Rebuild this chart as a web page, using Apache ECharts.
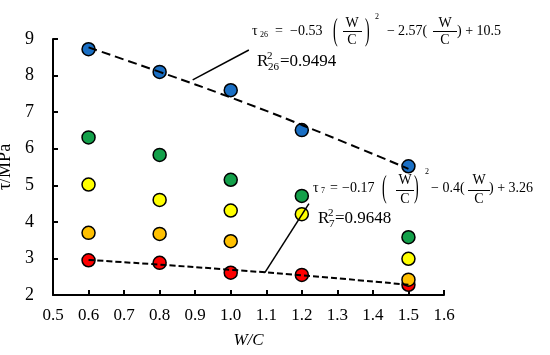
<!DOCTYPE html>
<html><head><meta charset="utf-8">
<script src="https://cdn.jsdelivr.net/npm/echarts@6/dist/echarts.min.js"></script>
<style>html,body{margin:0;padding:0;background:#fff}#c{width:550px;height:355px}</style>
</head><body><div id="c"></div>
<script>
// W/C categories
const wc = [0.6, 0.8, 1.0, 1.2, 1.5];
// shear strength values (MPa)
const blue   = [8.72, 8.10, 7.60, 6.51, 5.52];
const green  = [6.31, 5.83, 5.15, 4.71, 3.58];
const yellow = [5.02, 4.60, 4.31, 4.21, 2.99];
const orangeX = [0.6, 0.8, 1.0, 1.5];
const orange = [3.70, 3.67, 3.47, 2.42];
const red    = [2.95, 2.88, 2.61, 2.55, 2.28];
// fitted trend lines read at the same W/C
const trend26 = [8.77, 8.10, 7.40, 6.65, 5.45];
const trend7  = [2.96, 2.83, 2.69, 2.54, 2.28];
// leader lines (data coords)
const leader26 = [[0.893, 7.88], [1.051, 8.70]];
const leader7  = [[1.096, 2.61], [1.22, 4.50]];
const xTicks = [0.5, 1.6, 0.1];
const yTicks = [2, 9, 1];

const F = '"Liberation Serif","Times New Roman",serif';
const pairs = (xs, ys) => xs.map((x, i) => [x, ys[i]]);
const dot = (name, xs, ys, color, z) => ({
  name, type: 'scatter', data: pairs(xs, ys), symbol: 'circle', symbolSize: 13, z,
  itemStyle: {color, borderColor: '#000', borderWidth: 1.5, opacity: 1}
});
const lineS = (data, type, width, z) => ({
  type: 'line', data, smooth: true, symbol: 'none', z, silent: true,
  lineStyle: {color: '#000', width, type}
});

const chart = echarts.init(document.getElementById('c'));
function txt(x, y, text, size, extra) {
  return Object.assign({type: 'text', x, y, z: 100, style: {text, font: size + 'px ' + F, fill: '#000',
    align: 'left', verticalAlign: 'middle'}}, extra || {});
}
function ctxt(x, y, text, size) {
  const t = txt(x, y, text, size); t.style.align = 'center'; return t;
}
function paren(x, y, ch) {
  return {type: 'text', x, y, scaleY: 2.3, z: 100, style: {text: ch, font: '14px ' + F, fill: '#000', align: 'left', verticalAlign: 'middle'}};
}
function bar(x1, x2, y) {
  return {type: 'line', z: 100, shape: {x1, y1: y, x2, y2: y}, style: {stroke: '#000', lineWidth: 1}};
}
const g = [
  // top equation
  txt(252, 31, 'τ', 14), txt(260, 35, '26', 8), txt(275, 31, '=', 14), txt(290, 31, '−0.53', 14),
  paren(333, 32, '('), ctxt(352, 23, 'W', 14), bar(343, 362, 31.5), ctxt(352, 40, 'C', 14), paren(365, 32, ')'),
  txt(375, 17, '2', 8), txt(387, 31, '−', 14), txt(398, 31, '2.57(', 14),
  ctxt(445, 23, 'W', 14), bar(433, 457, 31.5), ctxt(445, 40, 'C', 14), txt(457, 31, ') + 10.5', 14),
  txt(257, 62, 'R', 17), txt(267, 56, '2', 11), txt(268, 67, '26', 11), txt(280, 62, '=0.9494', 17),
  // lower equation
  txt(313, 188, 'τ', 14), txt(321, 191, '7', 8), txt(330, 188, '=', 14), txt(342, 188, '−0.17', 14),
  paren(382, 189, '('), ctxt(405, 180, 'W', 14), bar(396, 414, 190.5), ctxt(405, 199, 'C', 14), paren(414, 189, ')'),
  txt(425, 172, '2', 8), txt(431, 188, '− 0.4(', 14),
  ctxt(479, 180, 'W', 14), bar(468, 490, 190.5), ctxt(479, 199, 'C', 14), txt(489, 188, ') + 3.26', 14),
  txt(318, 219, 'R', 17), txt(328, 213, '2', 11), txt(329, 224, '7', 11), txt(335, 219, '=0.9648', 17)
];

chart.setOption({
  animation: false,
  backgroundColor: '#fff',
  grid: {left: 53, right: 106, top: 39, bottom: 60, containLabel: false, outerBoundsMode: 'none'},
  xAxis: {
    type: 'value', min: xTicks[0], max: xTicks[1], interval: xTicks[2],
    name: 'W/C', nameLocation: 'middle', nameGap: 37,
    nameTextStyle: {fontFamily: F, fontSize: 17, fontStyle: 'italic', color: '#000'},
    axisLine: {lineStyle: {color: '#000', width: 2}},
    axisTick: {inside: true, length: 5, lineStyle: {color: '#000', width: 2}},
    axisLabel: {fontFamily: F, fontSize: 17, color: '#000', margin: 12, formatter: v => v.toFixed(1)},
    splitLine: {show: false}
  },
  yAxis: {
    type: 'value', min: yTicks[0], max: yTicks[1], interval: yTicks[2],
    name: 'τ/MPa', nameLocation: 'middle', nameGap: 35,
    nameTextStyle: {fontFamily: F, fontSize: 18, color: '#000'},
    axisLine: {lineStyle: {color: '#000', width: 2}},
    axisTick: {inside: true, length: 5, lineStyle: {color: '#000', width: 2}},
    axisLabel: {fontFamily: F, fontSize: 18, color: '#000', margin: 19},
    splitLine: {show: false}
  },
  series: [
    dot('red', wc, red, '#ff0000', 3),
    dot('orange', orangeX, orange, '#ffc000', 4),
    dot('yellow', wc, yellow, '#ffff00', 5),
    dot('green', wc, green, '#13a04a', 6),
    dot('blue', wc, blue, '#1a6fc4', 7),
    lineS(pairs(wc, trend26), [9, 5], 2, 8),
    lineS(pairs(wc, trend7), [6, 3], 2, 8),
    lineS(leader26, 'solid', 1.5, 8),
    lineS(leader7, 'solid', 1.5, 8)
  ],
  graphic: g
});
</script></body></html>
